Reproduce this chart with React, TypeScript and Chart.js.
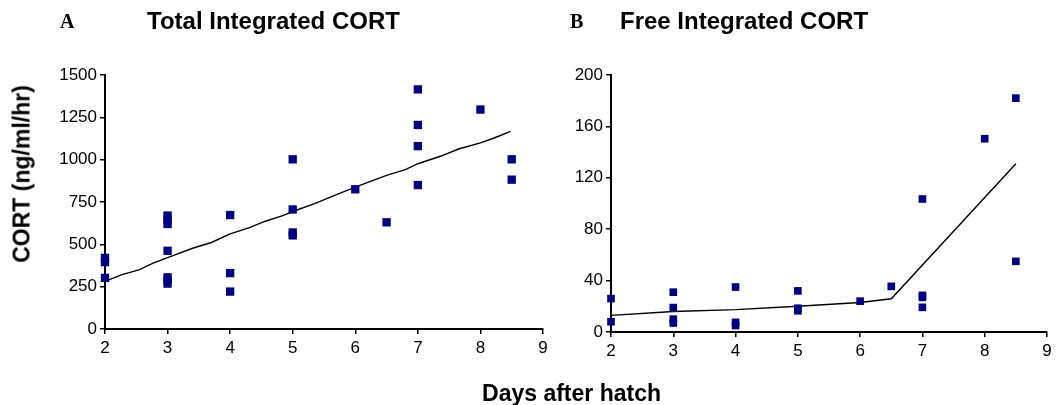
import React, { useEffect, useRef } from "react";
import { Chart, registerables } from "chart.js";

Chart.register(...registerables);

// Panel A: Total Integrated CORT (ng/ml/hr)
const totalDays = [2, 2, 2, 3, 3, 3, 3, 3, 3, 3, 4, 4, 4, 5, 5, 5, 5, 6, 6.5, 7, 7, 7, 7, 8, 8.5, 8.5];
const totalValues = [420, 395, 302, 670, 645, 620, 462, 305, 290, 268, 673, 330, 221, 1002, 706, 570, 553, 825, 630, 1415, 1205, 1080, 850, 1296, 1002, 882];
const totalFitDays = [2, 2.26, 2.54, 2.77, 3, 3.4, 3.7, 4, 4.32, 4.55, 4.84, 5, 5.35, 5.7, 6, 6.2, 6.5, 6.8, 7, 7.36, 7.65, 8, 8.22, 8.48];
const totalFitValues = [281, 320, 349, 389, 422, 477, 511, 562, 600, 635, 669, 694, 740, 793, 838, 866, 907, 941, 976, 1020, 1063, 1099, 1128, 1167];

// Panel B: Free Integrated CORT
const freeDays = [2, 2, 3, 3, 3, 3, 4, 4, 4, 5, 5, 5, 6, 6.5, 7, 7, 7, 7, 8, 8.5, 8.5];
const freeValues = [26, 8, 31, 19, 10, 7, 35, 7.5, 5, 32, 18.5, 16.5, 24, 35.5, 103.5, 28.5, 26.9, 19.2, 150.4, 182, 55];
const freeFitDays = [2, 3, 4, 5, 6, 6.5, 8.5];
const freeFitValues = [12.9, 16, 17.4, 20, 23, 25.9, 131];

const xTicksMin = 2;
const xTicksMax = 9;

const FONT = '"Liberation Sans", Arial, Helvetica, sans-serif';
const NAVY = "#000080";

function buildConfig(
  days: number[],
  values: number[],
  fitDays: number[],
  fitValues: number[],
  yMax: number,
  yStep: number,
  yWidth: number,
  xHeight: number,
  padding: { top: number; right: number; left: number; bottom: number },
  pointRadius: number
): any {
  return {
    type: "scatter",
    data: {
      datasets: [
        {
          type: "line",
          data: fitDays.map((d, i) => ({ x: d, y: fitValues[i] })),
          borderColor: "#000",
          borderWidth: 1.4,
          pointRadius: 0,
          tension: 0,
          fill: false,
          clip: false,
          order: 2,
        },
        {
          type: "scatter",
          data: days.map((d, i) => ({ x: d, y: values[i] })),
          backgroundColor: NAVY,
          borderColor: NAVY,
          borderWidth: 0,
          pointStyle: "rect",
          pointRadius: pointRadius,
          clip: false,
          order: 1,
        },
      ],
    },
    options: {
      responsive: false,
      animation: false,
      layout: { padding },
      plugins: {
        legend: { display: false },
        tooltip: { enabled: false },
        title: { display: false },
      },
      scales: {
        x: {
          type: "linear",
          min: xTicksMin,
          max: xTicksMax,
          ticks: {
            stepSize: 1,
            color: "#000",
            font: { family: FONT, size: 17 },
            padding: 4,
            callback: (v: any) => String(v),
          },
          grid: { drawOnChartArea: false, tickLength: 5, color: "#000", lineWidth: 1.5 },
          border: { color: "#000", width: 2 },
          afterFit: (s: any) => {
            s.height = xHeight;
          },
        },
        y: {
          type: "linear",
          min: 0,
          max: yMax,
          ticks: {
            stepSize: yStep,
            color: "#000",
            font: { family: FONT, size: 17 },
            padding: 3,
            callback: (v: any) => String(v),
          },
          grid: { drawOnChartArea: false, tickLength: 5, color: "#000", lineWidth: 1.5 },
          border: { color: "#000", width: 2 },
          afterFit: (s: any) => {
            s.width = yWidth;
          },
        },
      },
    },
  };
}

export default function App() {
  const leftRef = useRef<HTMLCanvasElement>(null);
  const rightRef = useRef<HTMLCanvasElement>(null);

  useEffect(() => {
    const c1 = new Chart(
      leftRef.current as HTMLCanvasElement,
      buildConfig(totalDays, totalValues, totalFitDays, totalFitValues, 1500, 250, 105, 76, { top: 75, right: 17, left: 0, bottom: 0 }, 5.9)
    );
    const c2 = new Chart(
      rightRef.current as HTMLCanvasElement,
      buildConfig(freeDays, freeValues, freeFitDays, freeFitValues, 200, 40, 51, 73, { top: 75, right: 9, left: 0, bottom: 0 }, 5.4)
    );
    return () => {
      c1.destroy();
      c2.destroy();
    };
  }, []);

  const abs: React.CSSProperties = { position: "absolute", whiteSpace: "nowrap", color: "#000", margin: 0 };

  return (
    <div style={{ position: "absolute", left: 0, top: 0, width: 1056, height: 405, background: "#fff", overflow: "hidden" }}>
      <canvas ref={leftRef} width={560} height={405} style={{ position: "absolute", left: 0, top: 0, display: "block" }} />
      <canvas ref={rightRef} width={496} height={405} style={{ position: "absolute", left: 560, top: 0, display: "block" }} />
      <div style={{ ...abs, left: 60, top: 11, font: 'bold 20px "Liberation Serif", "Times New Roman", serif', lineHeight: "20px" }}>A</div>
      <div style={{ ...abs, left: 147, top: 9, font: `bold 24px ${FONT}`, lineHeight: "24px" }}>Total Integrated CORT</div>
      <div style={{ ...abs, left: 570, top: 11, font: 'bold 20px "Liberation Serif", "Times New Roman", serif', lineHeight: "20px" }}>B</div>
      <div style={{ ...abs, left: 620, top: 9, font: `bold 24px ${FONT}`, lineHeight: "24px" }}>Free Integrated CORT</div>
      <div
        style={{
          ...abs,
          left: 22,
          top: 174,
          font: `bold 23px ${FONT}`,
          lineHeight: "23px",
          transform: "translate(-50%, -50%) rotate(-90deg)",
        }}
      >
        CORT (ng/ml/hr)
      </div>
      <div style={{ ...abs, left: 571.5, top: 381.5, font: `bold 23px ${FONT}`, lineHeight: "23px", transform: "translateX(-50%)" }}>
        Days after hatch
      </div>
    </div>
  );
}
